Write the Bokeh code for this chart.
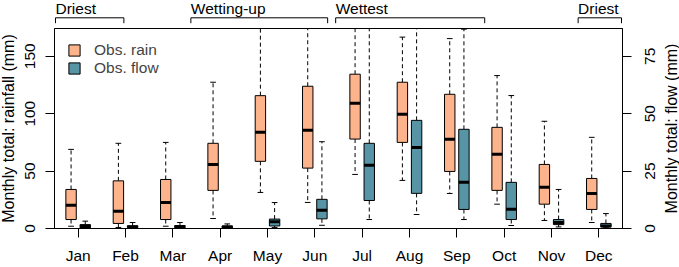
import math
import numpy as np
from bokeh.plotting import figure
from bokeh.layouts import column, row
from bokeh.models import (Range1d, LinearAxis, FixedTicker, ColumnDataSource,
                          Legend, LegendItem)
from bokeh.core.properties import value
from bokeh.embed import file_html
from bokeh.resources import INLINE

# ---------------- data ----------------
months = ["Jan", "Feb", "Mar", "Apr", "May", "Jun",
          "Jul", "Aug", "Sep", "Oct", "Nov", "Dec"]

rain_min = [2.0, 0.9, 2.0, 8.7, 31.4, 22.7, 47.1, 41.9, 30.5, 21.2, 7.0, 5.2]
rain_q1  = [7.8, 4.4, 7.8, 33.2, 58.5, 52.6, 77.9, 75.0, 49.7, 33.2, 21.2, 16.6]
rain_med = [20.3, 15.1, 22.7, 55.8, 83.8, 85.5, 109.1, 99.5, 77.7, 64.6, 36.0, 30.5]
rain_q3  = [34.0, 41.5, 42.7, 74.2, 115.7, 123.9, 134.4, 127.4, 116.9, 88.1, 55.8, 43.6]
rain_max = [68.9, 74.2, 75.0, 127.4, 200.0, 195.0, 210.0, 166.7, 165.4, 133.2, 93.4, 79.4]

flow_min = [0.1, 0.1, 0.1, 0.1, 0.4, 1.4, 3.9, 6.1, 3.9, 1.3, 0.7, 0.3]
flow_q1  = [0.3, 0.3, 0.3, 0.3, 1.1, 4.2, 12.2, 15.3, 8.3, 3.9, 1.7, 0.7]
flow_med = [0.9, 0.7, 0.7, 0.6, 2.9, 7.9, 27.5, 35.3, 20.1, 8.4, 2.6, 1.1]
flow_q3  = [1.7, 1.2, 1.3, 1.1, 4.1, 12.7, 37.1, 47.1, 43.2, 20.1, 3.9, 2.2]
flow_max = [3.2, 2.6, 2.6, 2.0, 11.3, 37.8, 110.0, 105.0, 86.8, 57.9, 17.0, 6.5]

rain_ticks = [0, 50, 100, 150]
flow_ticks = [0, 25, 50, 75]

seasons = ["Driest", "Wetting-up", "Wettest", "Driest"]
season_start = [0.5, 3.37, 6.44, 11.58]
season_end = [1.95, 6.27, 9.6, 12.5]

rain_title = "Monthly total: rainfall (mm)"
flow_title = "Monthly total: flow (mm)"

# ---------------- style ----------------
FONT = "Liberation Sans"
FS = "15.5px"
FS_TITLE = "16px"
RAIN_COL = "#FDB38B"
FLOW_COL = "#5794A5"
RAIN_TOP = 174.2
FLOW_TOP = RAIN_TOP / 2.0
DODGE = 0.15
BW = 0.22
CW = 0.12

TOTAL_W, TOTAL_H = 679, 267
LEFT_W, RIGHT_W = 42, 45
TOP_H = 28
MAIN_H = TOTAL_H - TOP_H
BOTTOM_B = 39
FRAME_H = MAIN_H - BOTTOM_B
W = TOTAL_W - LEFT_W - RIGHT_W
BL, BR = 12, 12

n = len(months)
xpos = np.arange(1, n + 1)

p = figure(width=W, height=MAIN_H, output_backend="svg", toolbar_location=None,
           x_range=Range1d(0.5, n + 0.5), y_range=Range1d(0, RAIN_TOP),
           min_border_left=BL, min_border_right=BR, min_border_top=0,
           min_border_bottom=BOTTOM_B)
p.extra_y_ranges = {"flow": Range1d(0, FLOW_TOP)}
p.xgrid.visible = False
p.ygrid.visible = False
p.outline_line_color = "black"
p.outline_line_width = 1
p.background_fill_color = "white"
p.border_fill_color = "white"


def add_series(xc, mn, q1, md, q3, mx, color, range_name):
    src = ColumnDataSource(dict(x=xc, xl=xc - BW / 2, xr=xc + BW / 2,
                                cl=xc - CW / 2, cr=xc + CW / 2,
                                mn=mn, q1=q1, md=md, q3=q3, mx=mx))
    kw = dict(source=src, y_range_name=range_name)
    p.segment(x0="x", y0="q3", x1="x", y1="mx", line_color="black",
              line_width=1, line_dash="4 3", **kw)
    p.segment(x0="x", y0="q1", x1="x", y1="mn", line_color="black",
              line_width=1, line_dash="4 3", **kw)
    p.segment(x0="cl", y0="mx", x1="cr", y1="mx", line_color="black",
              line_width=1, **kw)
    p.segment(x0="cl", y0="mn", x1="cr", y1="mn", line_color="black",
              line_width=1, **kw)
    box = p.vbar(x="x", width=BW, bottom="q1", top="q3", fill_color=color,
                 line_color="black", line_width=1, **kw)
    p.segment(x0="xl", y0="md", x1="xr", y1="md", line_color="black",
              line_width=3, line_cap="butt", **kw)
    return box


rbox = add_series(xpos - DODGE, rain_min, rain_q1, rain_med, rain_q3,
                  rain_max, RAIN_COL, "default")
fbox = add_series(xpos + DODGE, flow_min, flow_q1, flow_med, flow_q3,
                  flow_max, FLOW_COL, "flow")


def style_axis(ax, show_labels=True):
    ax.axis_line_color = "black"
    ax.major_tick_line_color = "black"
    ax.minor_tick_line_color = None
    ax.major_tick_in = 0
    ax.major_tick_out = 9
    ax.major_label_text_font = FONT
    ax.major_label_text_color = "black"
    ax.axis_label = None
    if show_labels:
        ax.major_label_text_font_size = FS
    else:
        ax.major_label_text_font_size = "1px"
        ax.major_label_text_alpha = 0
        ax.major_label_standoff = 0


# bottom axis
xa = p.xaxis[0]
style_axis(xa)
xa.ticker = FixedTicker(ticks=list(xpos))
xa.major_label_overrides = {int(i): m for i, m in zip(xpos, months)}
xa.major_label_standoff = 9

# left axis (ticks only; labels + title in side strip)
ya = p.yaxis[0]
style_axis(ya, show_labels=False)
ya.ticker = FixedTicker(ticks=rain_ticks)

# right axis (ticks only; labels + title in side strip)
ra = LinearAxis(y_range_name="flow")
style_axis(ra, show_labels=False)
ra.ticker = FixedTicker(ticks=flow_ticks)
p.add_layout(ra, "right")

# legend
legend = Legend(items=[LegendItem(label="Obs. rain", renderers=[rbox]),
                       LegendItem(label="Obs. flow", renderers=[fbox])],
                location="top_left", margin=0, padding=13, spacing=0,
                glyph_width=14, glyph_height=14, label_standoff=13,
                label_text_font=FONT, label_text_font_size=FS,
                label_height=15, border_line_alpha=0, background_fill_alpha=0)
p.add_layout(legend)

# ---------------- season brackets (strip above the frame) ----------------
d = 1.0 * n / (W - BL - BR)          # one pixel in month units
top = figure(width=W, height=TOP_H, output_backend="svg", toolbar_location=None,
             x_range=Range1d(0.5 - d, n + 0.5 + d), y_range=Range1d(0, TOP_H),
             x_axis_type=None, y_axis_type=None,
             min_border_left=BL - 1, min_border_right=BR - 1,
             min_border_top=0, min_border_bottom=0)
top.outline_line_color = None
top.xgrid.visible = False
top.ygrid.visible = False
top.background_fill_color = "white"
top.border_fill_color = "white"

Y_TICK, Y_LINE, Y_TEXT = 5.3, 10.7, 19.8
xs, ys, xe, ye = [], [], [], []
for a, b in zip(season_start, season_end):
    xs += [a, a, b]
    ys += [Y_LINE, Y_LINE, Y_LINE]
    xe += [b, a, b]
    ye += [Y_LINE, Y_TICK, Y_TICK]
top.segment(x0=xs, y0=ys, x1=xe, y1=ye, line_color="black", line_width=1)
top.text(x=season_start, y=[Y_TEXT] * len(seasons),
         text=seasons, text_font=value(FONT), text_font_size=value(FS),
         text_baseline="alphabetic", text_align="left", text_color="black")


# ---------------- side strips: tick labels + axis titles ----------------
def side_strip(width, top_val, ticks, title, lab_x, title_x):
    per_px = top_val / FRAME_H
    f = figure(width=width, height=TOTAL_H, output_backend="svg",
               toolbar_location=None, x_range=Range1d(0, width),
               y_range=Range1d(-BOTTOM_B * per_px, top_val + TOP_H * per_px),
               x_axis_type=None, y_axis_type=None, min_border=0)
    f.outline_line_color = None
    f.xgrid.visible = False
    f.ygrid.visible = False
    f.background_fill_color = "white"
    f.border_fill_color = "white"
    f.text(x=[lab_x] * len(ticks), y=ticks, text=[str(t) for t in ticks],
           angle=math.pi / 2, text_font=value(FONT), text_font_size=value(FS),
           text_align="center", text_baseline="middle", text_color="black")
    f.text(x=[title_x], y=[top_val / 2.0], text=[title], angle=math.pi / 2,
           text_font=value(FONT), text_font_size=value(FS_TITLE),
           text_align="center", text_baseline="middle", text_color="black")
    return f


left = side_strip(LEFT_W, RAIN_TOP, rain_ticks, rain_title, 29.5, 8.0)
right = side_strip(RIGHT_W, FLOW_TOP, flow_ticks, flow_title, 15.0, 36.5)

layout = row(left, column(top, p, spacing=0), right, spacing=0)
open("out.html", "w").write(file_html(layout, INLINE))
